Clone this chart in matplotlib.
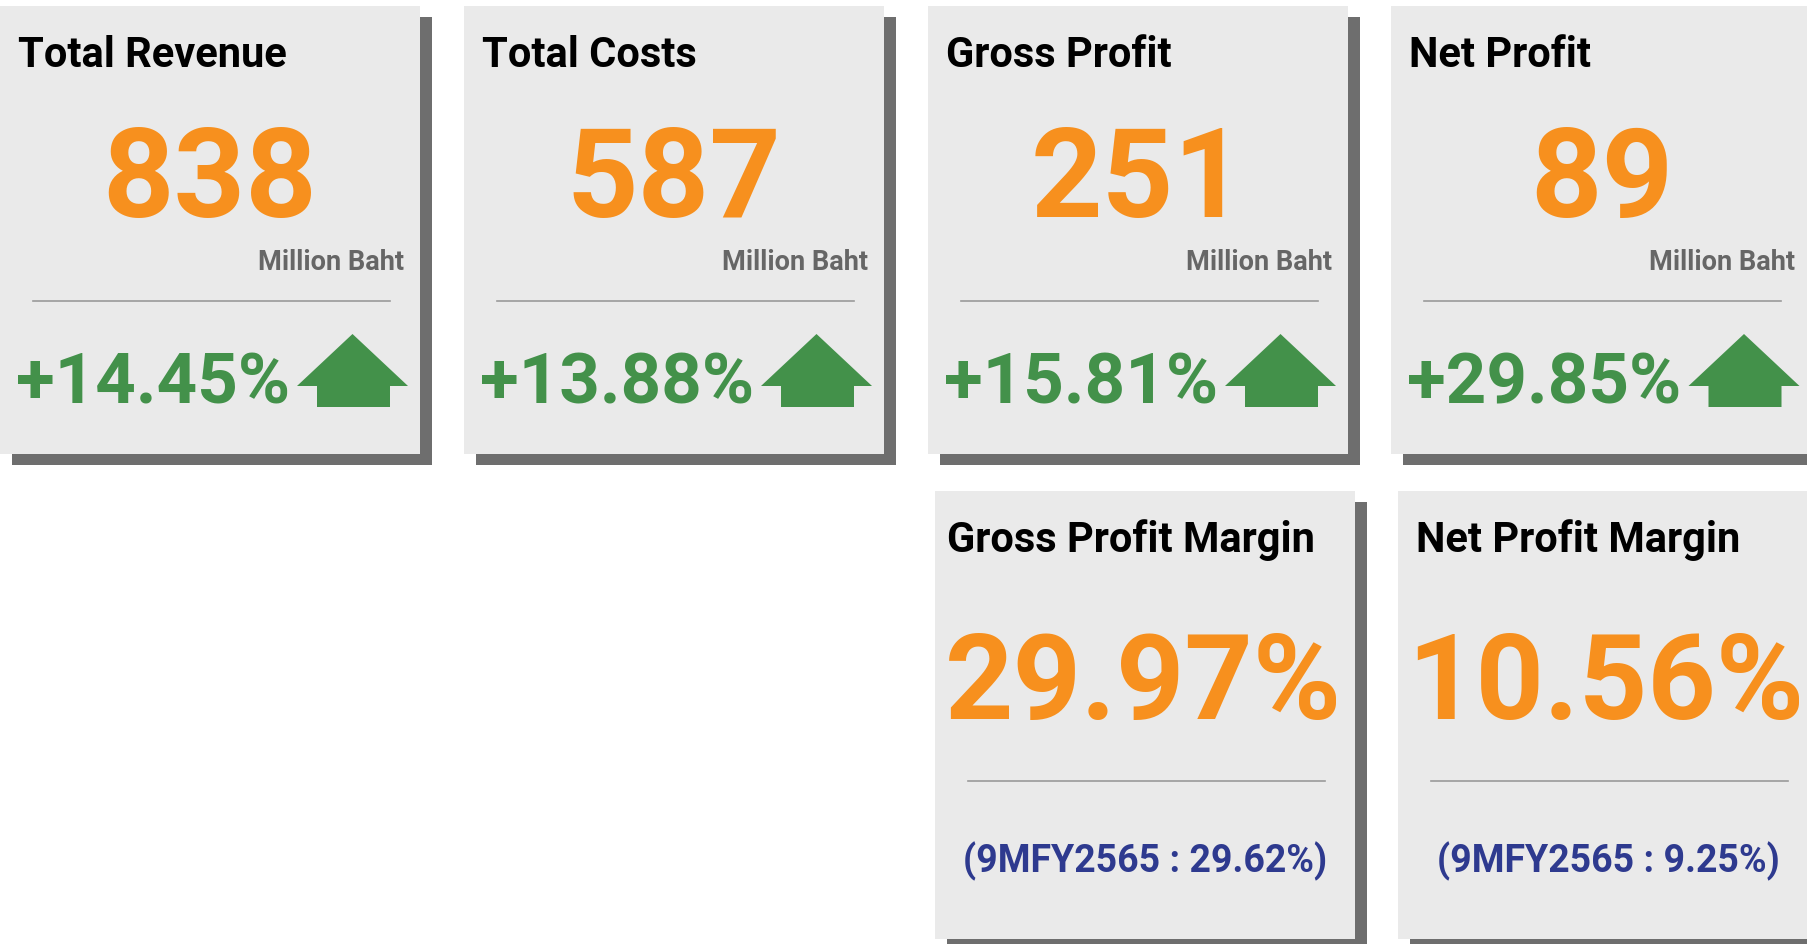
import matplotlib.pyplot as plt
from matplotlib.patches import Rectangle, Polygon

# KPI data
kpi_titles = ['Total Revenue', 'Total Costs', 'Gross Profit', 'Net Profit']
kpi_values = [838, 587, 251, 89]
kpi_changes = [14.45, 13.88, 15.81, 29.85]
unit = 'Million Baht'

margin_titles = ['Gross Profit Margin', 'Net Profit Margin']
margin_values = [29.97, 10.56]
margin_prev = [29.62, 9.25]
prev_label = '9MFY2565'

# colours
card_bg = '#EAEAEA'
shadow = '#6E6E6E'
orange = '#F7901E'
green = '#43914A'
navy = '#2E3A8F'
line_col = '#9A9A9A'

W, H = 1807, 945
CW, CH = 420, 448
FONT = 'Roboto'

fig = plt.figure(figsize=(W / 100, H / 100), dpi=100)
ax = fig.add_axes([0, 0, 1, 1])
ax.set_xlim(0, W)
ax.set_ylim(H, 0)
ax.axis('off')


def card(x0, y0):
    ax.add_patch(Rectangle((x0 + 12, y0 + 11), CW, CH, color=shadow, lw=0))
    ax.add_patch(Rectangle((x0, y0), CW, CH, color=card_bg, lw=0))
    return x0, y0


def arrow(x0, y0):
    # up arrow icon, coordinates relative to the card's top-left corner
    pts = [(297, 380), (352.5, 328), (408, 380), (390, 380),
           (390, 401), (317, 401), (317, 380)]
    ax.add_patch(Polygon([(x0 + px, y0 + py) for px, py in pts],
                         closed=True, color=green, lw=0))


# top row: values
for i, (title, val, chg) in enumerate(zip(kpi_titles, kpi_values, kpi_changes)):
    x0, y0 = card(464 * i - 0.5 * (i == 3), 7)
    ax.text(x0 + 18, y0 + 60, title, fontsize=30, fontweight='bold',
            family=FONT, color='black', va='baseline', ha='left')
    ax.text(x0 + CW / 2, y0 + 210, str(val), fontsize=90, fontweight='bold',
            family=FONT, color=orange, va='baseline', ha='center')
    ax.text(x0 + 404, y0 + 263, unit, fontsize=19.5, fontweight='bold',
            family=FONT, color='#666666', va='baseline', ha='right')
    ax.plot([x0 + 33, x0 + 390], [y0 + 295, y0 + 295], color=line_col, lw=1.2)
    ax.text(x0 + 16, y0 + 396, '+%.2f%%' % chg, fontsize=51, fontweight='bold',
            family=FONT, color=green, va='baseline', ha='left')
    arrow(x0, y0)

# bottom row: margins
for i, (title, val, prev) in enumerate(zip(margin_titles, margin_values, margin_prev)):
    x0, y0 = card(935 + 463 * i, 492)
    ax.text(x0 + (12 if i == 0 else 18), y0 + 60, title, fontsize=30,
            fontweight='bold', family=FONT, color='black', va='baseline', ha='left')
    ax.text(x0 + CW / 2 - 2, y0 + 227, '%.2f%%' % val, fontsize=86,
            fontweight='bold', family=FONT, color=orange, va='baseline', ha='center')
    ax.plot([x0 + 33, x0 + 390], [y0 + 290, y0 + 290], color=line_col, lw=1.2)
    ax.text(x0 + CW / 2, y0 + 380, '(%s : %.2f%%)' % (prev_label, prev),
            fontsize=27, fontweight='bold', family=FONT, color=navy,
            va='baseline', ha='center')

fig.savefig('out.png', dpi=100, facecolor='white')
